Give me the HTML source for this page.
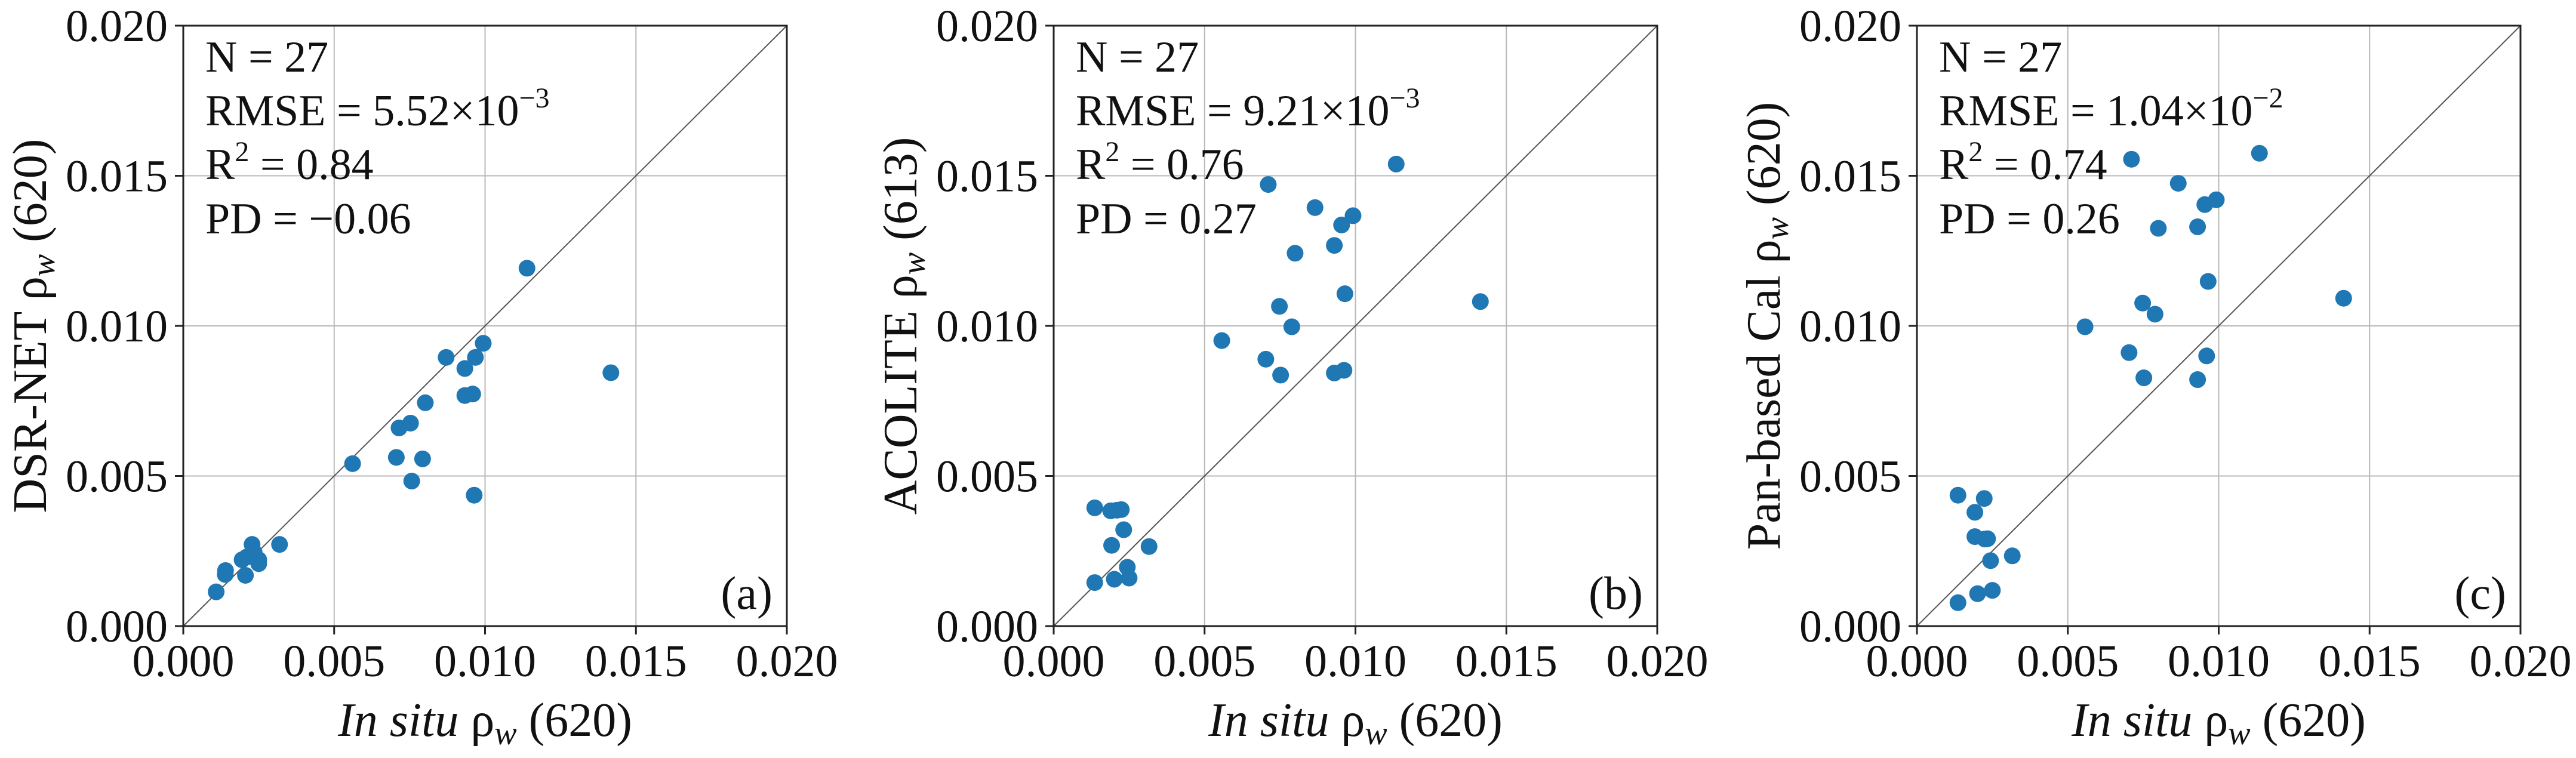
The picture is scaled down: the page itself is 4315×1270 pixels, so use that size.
<!DOCTYPE html>
<html><head><meta charset="utf-8"><style>
html,body{margin:0;padding:0;background:#fff;font-family:"Liberation Serif","Times New Roman",serif;}
svg{display:block;}
svg text{font-family:"Liberation Serif","Times New Roman",serif;}
</style></head><body>
<svg id="fig" width="4315" height="1270" viewBox="0 0 4315 1270" xmlns="http://www.w3.org/2000/svg" font-family="Liberation Serif, Times New Roman, serif"></svg>
<script>
const ticks = [0, 0.005, 0.010, 0.015, 0.020];
const tickLabels = ["0.000","0.005","0.010","0.015","0.020"];
const xA = [0.01139,0.00994,0.00871,0.00968,0.00933,0.01417,0.00933,0.00959,0.00802,0.00715,0.00753,0.00561,0.00706,0.00793,0.00757,0.00964,0.00319,0.00228,0.00195,0.00250,0.00250,0.00206,0.00140,0.00139,0.00109,0.00210,0.00235];
const yA = [0.01192,0.00942,0.00895,0.00895,0.00858,0.00844,0.00768,0.00773,0.00744,0.00660,0.00676,0.00541,0.00562,0.00557,0.00483,0.00436,0.00272,0.00272,0.00221,0.00221,0.00208,0.00169,0.00185,0.00172,0.00114,0.00230,0.00245];
const xB = [0.01135,0.00711,0.00866,0.00992,0.00954,0.00930,0.00800,0.00965,0.01414,0.00748,0.00789,0.00557,0.00703,0.00752,0.00930,0.00962,0.00136,0.00189,0.00224,0.00232,0.00192,0.00316,0.00244,0.00201,0.00250,0.00136,0.00210];
const yB = [0.01539,0.01471,0.01394,0.01367,0.01336,0.01268,0.01242,0.01107,0.01081,0.01065,0.00997,0.00951,0.00889,0.00836,0.00843,0.00852,0.00394,0.00384,0.00388,0.00321,0.00269,0.00265,0.00196,0.00156,0.00160,0.00145,0.00386];
const xC = [0.01135,0.00711,0.00866,0.00992,0.00954,0.00800,0.00930,0.00965,0.01414,0.00748,0.00789,0.00557,0.00703,0.00960,0.00752,0.00930,0.00136,0.00223,0.00192,0.00192,0.00234,0.00316,0.00244,0.00201,0.00250,0.00136,0.00225];
const yC = [0.01575,0.01555,0.01475,0.01420,0.01404,0.01325,0.01330,0.01148,0.01092,0.01076,0.01039,0.00997,0.00911,0.00900,0.00827,0.00821,0.00436,0.00425,0.00379,0.00298,0.00291,0.00234,0.00218,0.00108,0.00119,0.00078,0.00290];

const NS="http://www.w3.org/2000/svg";
const svg=document.getElementById('fig');
function mk(tag,attrs,parent){const e=document.createElementNS(NS,tag);for(const k in attrs)e.setAttribute(k,attrs[k]);(parent||svg).appendChild(e);return e;}

const panels=[
 {left:307,xs:xA,ys:yA,ylab:"DSR-NET",ywave:"(620)",stats:["N = 27","RMSE = 5.52×10","R","PD = −0.06"],exp:"−3",r2:"0.84",tag:"(a)",id:"a"},
 {left:1765,xs:xB,ys:yB,ylab:"ACOLITE",ywave:"(613)",stats:["N = 27","RMSE = 9.21×10","R","PD = 0.27"],exp:"−3",r2:"0.76",tag:"(b)",id:"b"},
 {left:3211,xs:xC,ys:yC,ylab:"Pan-based Cal",ywave:"(620)",stats:["N = 27","RMSE = 1.04×10","R","PD = 0.26"],exp:"−2",r2:"0.74",tag:"(c)",id:"c"}
];
const TOP=43,BOT=1049,W=1011,MAX=0.02;

panels.forEach(p=>{
  const g=mk('g',{});
  
  
  const sx=v=>p.left+v/MAX*W;
  const sy=v=>BOT-v/MAX*(BOT-TOP);
  ticks.forEach((t,i)=>{
    if(i>0&&i<ticks.length-1){
      const gx=mk('line',{x1:sx(t),x2:sx(t),y1:TOP,y2:BOT,stroke:'#b8b8b8','stroke-width':2},g);
      
      
      const gy=mk('line',{x1:p.left,x2:p.left+W,y1:sy(t),y2:sy(t),stroke:'#b8b8b8','stroke-width':2},g);
      
      
    }
    const tx=mk('line',{x1:sx(t),x2:sx(t),y1:BOT,y2:BOT+14,stroke:'#222','stroke-width':3},g);
    
    
    const ty=mk('line',{x1:p.left-14,x2:p.left,y1:sy(t),y2:sy(t),stroke:'#222','stroke-width':3},g);
    
    
    const lx=mk('text',{x:sx(t),y:1133,'font-size':76,'text-anchor':'middle',fill:'#111'},g);
    lx.textContent=tickLabels[i];
    
    
    const ly=mk('text',{x:p.left-26,y:sy(t)+26,'font-size':76,'text-anchor':'end',fill:'#111'},g);
    ly.textContent=tickLabels[i];
    
    
  });
  const d=mk('line',{x1:sx(0),y1:sy(0),x2:sx(MAX),y2:sy(MAX),stroke:'#555','stroke-width':2},g);
  
  
  p.xs.forEach((xv,i)=>{
    const c=mk('circle',{cx:sx(xv),cy:sy(p.ys[i]),r:14,fill:'#1f77b4'},g);
    
    
  });
  const f=mk('rect',{x:p.left,y:TOP,width:W,height:BOT-TOP,fill:'none',stroke:'#222','stroke-width':3},g);
  
  
  const sxp=p.left+37, base=[120,210,300,391];
  const t1=mk('text',{x:sxp,y:base[0],'font-size':74,fill:'#111'},g);t1.textContent=p.stats[0];
  
  
  const t2=mk('text',{x:sxp,y:base[1],'font-size':74,fill:'#111'},g);
  
  
  t2.appendChild(document.createTextNode(p.stats[1]));
  const e2=mk('tspan',{'font-size':48,dy:-30},t2);e2.textContent=p.exp;
  const t3=mk('text',{x:sxp,y:base[2],'font-size':74,fill:'#111'},g);
  
  
  t3.appendChild(document.createTextNode('R'));
  const e3=mk('tspan',{'font-size':48,dy:-30},t3);e3.textContent='2';
  const e4=mk('tspan',{dy:30},t3);e4.textContent=' = '+p.r2;
  const t4=mk('text',{x:sxp,y:base[3],'font-size':74,fill:'#111'},g);t4.textContent=p.stats[3];
  
  
  const tg=mk('text',{x:p.left+W-24,y:1020,'font-size':78,'text-anchor':'end',fill:'#111'},g);tg.textContent=p.tag;
  
  
  const xl=mk('text',{x:p.left+W/2,y:1233,'font-size':80,'text-anchor':'middle',fill:'#111'},g);
  
  
  const a1=mk('tspan',{'font-style':'italic'},xl);a1.textContent='In situ';
  const a2=mk('tspan',{},xl);a2.textContent=' ρ';
  const a3=mk('tspan',{'font-style':'italic','font-size':56,dy:14},xl);a3.textContent='w';
  const a4=mk('tspan',{dy:-14},xl);a4.textContent=' (620)';
  const cy=(TOP+BOT)/2, cx=p.left-230;
  const yl=mk('text',{x:cx,y:cy,'font-size':80,'text-anchor':'middle',fill:'#111',transform:`rotate(-90 ${cx} ${cy})`},g);
  
  
  const b1=mk('tspan',{},yl);b1.textContent=p.ylab+' ρ';
  const b2=mk('tspan',{'font-style':'italic','font-size':56,dy:14},yl);b2.textContent='w';
  const b3=mk('tspan',{dy:-14},yl);b3.textContent=' '+p.ywave;
});
</script>
</body></html>
